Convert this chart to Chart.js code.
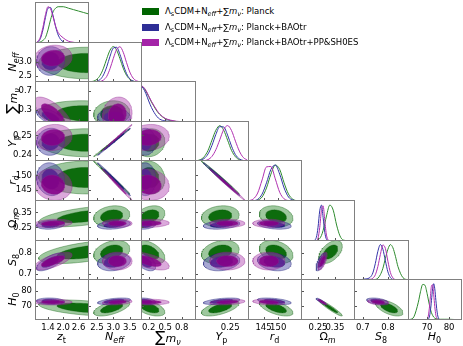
<!DOCTYPE html>
<html>
<head>
<meta charset="utf-8">
<script src="https://cdn.jsdelivr.net/npm/chart.js@4.4.0/dist/chart.umd.min.js"></script>
<style>
  body { margin: 0; background: #fff; }
  #page { position: relative; width: 463px; height: 346px; overflow: hidden; font-family: 'DejaVu Sans', sans-serif; color: #000; }
  canvas { position: absolute; }
  .ttl { position: absolute; font-size: 11px; white-space: nowrap; line-height: 12px; }
  .ttl .s { font-size: 8px; position: relative; top: 3px; }
  .rot { transform: translate(-50%, -50%) rotate(-90deg); }
  .bot { transform: translateX(-50%); }
  .leg { position: absolute; left: 142px; font-size: 8.5px; white-space: nowrap; line-height: 10px; }
  .leg b { display: inline-block; width: 17px; height: 7px; margin-right: 6px; vertical-align: -1px; }
  .leg .s { font-size: 6.5px; position: relative; top: 2px; }
</style>
</head>
<body>
<div id="page"></div>
<script>
// parameters: z_t, N_eff, sum m_nu, Y_p, r_d, Omega_m, S_8, H_0
var xMin = [0.89, 2.23, 0.06, 0.2365, 139.7, 0.149, 0.665, 61.3];
var xMax = [3.01, 3.87, 1.06, 0.2572, 158.1, 0.469, 0.884, 85.9];
var yMin = [0, 2.29, 0.035, 0.2368, 141.1, 0.16, 0.672, 60.2];
var yMax = [1, 3.68, 0.92, 0.2574, 155.4, 0.432, 0.862, 88.2];
var xTicks = [[1.4, 2.0, 2.6], [2.5, 3.0, 3.5], [0.2, 0.5, 0.8], [0.25], [145, 150], [0.25, 0.35], [0.7, 0.8], [70, 80]];
var yTicks = [[], [2.5, 3.0], [0.3, 0.7], [0.24, 0.25], [145, 150], [0.25, 0.35], [0.7, 0.8], [70, 80]];
var tickDec = [1, 1, 1, 2, 0, 2, 1, 0];

// 1D marginals (peak ~1)
var ztGrid = [0.9, 1.0, 1.1, 1.2, 1.3, 1.4, 1.5, 1.6, 1.7, 1.8, 2.0, 2.2, 2.4, 2.6, 2.8, 3.0];
var ztP = [0, 0.01, 0.03, 0.07, 0.15, 0.36, 0.64, 0.86, 0.96, 1.0, 1.0, 0.96, 0.92, 0.88, 0.84, 0.8];
var ztB = [0, 0.03, 0.12, 0.36, 0.7, 0.96, 0.98, 0.75, 0.45, 0.22, 0.03, 0, 0, 0, 0, 0];
var ztS = [0, 0.04, 0.16, 0.43, 0.78, 1.0, 0.94, 0.72, 0.46, 0.29, 0.14, 0.05, 0.02, 0, 0, 0];

var neffGrid = [2.3, 2.4, 2.5, 2.6, 2.7, 2.8, 2.9, 3.0, 3.1, 3.2, 3.3, 3.4, 3.5, 3.6, 3.7, 3.8];
var neffP = [0.006, 0.024, 0.076, 0.19, 0.39, 0.66, 0.9, 1, 0.9, 0.66, 0.39, 0.19, 0.076, 0.024, 0.006, 0.001];
var neffB = [0.001, 0.004, 0.02, 0.07, 0.2, 0.43, 0.73, 0.96, 0.98, 0.78, 0.49, 0.24, 0.09, 0.026, 0.006, 0];
var neffS = [0, 0, 0.003, 0.015, 0.056, 0.16, 0.38, 0.67, 0.92, 0.995, 0.84, 0.55, 0.28, 0.11, 0.034, 0.008];

var mnuGrid = [0.06, 0.1, 0.15, 0.2, 0.25, 0.3, 0.35, 0.4, 0.5, 0.6, 0.7, 0.8, 0.9, 1.0];
var mnuP = [1.0, 0.96, 0.85, 0.7, 0.55, 0.42, 0.3, 0.21, 0.09, 0.04, 0.015, 0.005, 0, 0];
var mnuB = [1.0, 0.93, 0.78, 0.58, 0.4, 0.26, 0.15, 0.08, 0.03, 0.02, 0.01, 0, 0, 0];
var mnuS = [1.0, 0.97, 0.87, 0.72, 0.57, 0.44, 0.32, 0.22, 0.1, 0.05, 0.02, 0.01, 0, 0];

var ypGrid = [0.237, 0.2385, 0.24, 0.2415, 0.243, 0.2445, 0.246, 0.2475, 0.249, 0.2505, 0.252, 0.2535, 0.255, 0.2565];
var ypP = [0.008, 0.035, 0.12, 0.3, 0.59, 0.87, 1, 0.87, 0.59, 0.3, 0.12, 0.035, 0.008, 0.001];
var ypB = [0.004, 0.02, 0.07, 0.2, 0.44, 0.75, 0.97, 0.96, 0.73, 0.42, 0.18, 0.06, 0.015, 0.003];
var ypS = [0, 0.002, 0.009, 0.04, 0.13, 0.32, 0.6, 0.89, 1.0, 0.86, 0.56, 0.28, 0.1, 0.03];

var rdGrid = [140, 141.5, 143, 144.5, 146, 147.5, 149, 150.5, 152, 153.5, 155, 156.5, 158];
var rdP = [0, 0.003, 0.024, 0.11, 0.36, 0.74, 0.99, 0.87, 0.5, 0.19, 0.046, 0.007, 0];
var rdB = [0.001, 0.007, 0.046, 0.19, 0.5, 0.87, 0.99, 0.74, 0.36, 0.11, 0.024, 0.003, 0];
var rdS = [0.008, 0.055, 0.22, 0.58, 0.94, 0.95, 0.61, 0.24, 0.06, 0.01, 0, 0, 0];

var omGrid = [0.15, 0.2, 0.22, 0.24, 0.25, 0.26, 0.27, 0.28, 0.29, 0.3, 0.32, 0.34, 0.36, 0.38, 0.4, 0.45];
var omP = [0, 0, 0.002, 0.01, 0.03, 0.07, 0.15, 0.29, 0.48, 0.69, 0.99, 0.85, 0.44, 0.14, 0.025, 0];
var omB = [0, 0, 0.005, 0.1, 0.38, 0.83, 0.99, 0.65, 0.24, 0.05, 0.002, 0, 0, 0, 0, 0];
var omS = [0, 0, 0, 0.01, 0.08, 0.37, 0.84, 0.97, 0.56, 0.16, 0.005, 0, 0, 0, 0, 0];

var s8Grid = [0.67, 0.69, 0.71, 0.73, 0.74, 0.75, 0.76, 0.77, 0.78, 0.79, 0.8, 0.81, 0.82, 0.83, 0.84, 0.86, 0.88];
var s8P = [0, 0, 0, 0.002, 0.005, 0.015, 0.05, 0.15, 0.33, 0.61, 0.87, 1.0, 0.91, 0.67, 0.38, 0.066, 0.004];
var s8B = [0.002, 0.01, 0.03, 0.08, 0.2, 0.47, 0.81, 1.0, 0.87, 0.54, 0.23, 0.07, 0.015, 0.002, 0, 0, 0];
var s8S = [0, 0.005, 0.01, 0.02, 0.05, 0.15, 0.38, 0.72, 0.99, 0.89, 0.53, 0.21, 0.06, 0.01, 0, 0, 0];

var h0Grid = [62, 64, 66, 67, 68, 69, 70, 70.5, 71, 71.5, 72, 72.5, 73, 73.5, 74, 74.5, 75, 76, 78, 80, 82, 84];
var h0P = [0.006, 0.09, 0.49, 0.78, 0.98, 0.96, 0.73, 0.58, 0.43, 0.3, 0.2, 0.13, 0.08, 0.05, 0.035, 0.03, 0.025, 0.02, 0.02, 0.02, 0.015, 0.01];
var h0B = [0, 0, 0, 0, 0, 0, 0.004, 0.02, 0.08, 0.25, 0.54, 0.86, 1.0, 0.86, 0.54, 0.25, 0.08, 0.004, 0, 0, 0, 0];
var h0S = [0, 0, 0, 0, 0, 0, 0.025, 0.1, 0.31, 0.64, 0.94, 0.97, 0.71, 0.37, 0.13, 0.035, 0.006, 0, 0, 0, 0, 0];

// 2D contours: centre, width and correlation of each blob
var meanP = [2.9, 2.95, 0.22, 0.2462, 149.3, 0.324, 0.805, 68.4];
var sigP  = [0.75, 0.22, 0.11, 0.0029, 2.3, 0.028, 0.022, 2.2];
var meanB = [1.5, 3.02, 0.14, 0.2467, 148.7, 0.268, 0.758, 73.0];
var sigB  = [0.22, 0.2, 0.075, 0.0028, 2.3, 0.012, 0.017, 0.9];
var meanS = [1.6, 3.12, 0.2, 0.2489, 146.8, 0.277, 0.762, 72.4];
var sigS  = [0.3, 0.18, 0.15, 0.0027, 2.2, 0.011, 0.017, 0.8];
// pair order: (0,1)..(0,7), (1,2)..(1,7), ... (6,7)
var rhoP = [0.0, -0.1, 0.0, 0.0, 0.55, 0.55, -0.45,
            0.1, 0.998, -0.995, 0.2, 0.3, 0.6,
            0.1, -0.1, 0.3, -0.5, -0.5,
            -0.995, 0.15, 0.25, 0.6,
            -0.2, -0.3, -0.6,
            0.5, -0.95,
            -0.6];
var rhoB = [0.05, -0.6, 0.05, -0.1, 0.2, 0.7, -0.1,
            0.0, 0.998, -0.995, 0.3, 0.2, 0.5,
            0.0, 0.0, 0.2, -0.5, -0.3,
            -0.995, 0.3, 0.2, 0.5,
            -0.3, -0.2, -0.5,
            0.7, -0.9,
            -0.4];
var rhoS = [0.1, -0.7, 0.1, -0.1, 0.2, 0.7, 0.0,
            0.1, 0.998, -0.995, 0.0, 0.0, 0.3,
            0.1, -0.1, 0.1, -0.6, 0.0,
            -0.995, 0.0, 0.0, 0.3,
            0.0, 0.0, -0.3,
            0.7, -0.9,
            -0.3];

var grids = [ztGrid, neffGrid, mnuGrid, ypGrid, rdGrid, omGrid, s8Grid, h0Grid];
var curves = [[ztP, ztB, ztS], [neffP, neffB, neffS], [mnuP, mnuB, mnuS], [ypP, ypB, ypS],
              [rdP, rdB, rdS], [omP, omB, omS], [s8P, s8B, s8S], [h0P, h0B, h0S]];

var sets = [
  { mean: meanP, sig: sigP, rho: rhoP, line: '#2e8b2e', outer: 'rgba(0,110,0,0.38)', inner: 'rgba(0,100,0,0.92)', edge: 'rgba(0,90,0,0.6)' },
  { mean: meanB, sig: sigB, rho: rhoB, line: '#3434a8', outer: 'rgba(45,45,150,0.42)', inner: 'rgba(25,25,130,0.9)', edge: 'rgba(30,30,120,0.7)' },
  { mean: meanS, sig: sigS, rho: rhoS, line: '#b030b0', outer: 'rgba(170,50,170,0.42)', inner: 'rgba(135,0,135,0.85)', edge: 'rgba(140,30,140,0.6)' }
];

var colEdge = [35, 88, 141, 195, 248, 301, 354, 408, 461];
var rowEdge = [2, 42, 81, 121, 160, 200, 240, 279, 319];
var padL = 35, padB = 26;

function rhoAt(arr, c, r) {
  var k = 0;
  for (var a = 0; a < c; a++) k += 7 - a;
  return arr[k + (r - c - 1)];
}

function ellipse(mx, my, sx, sy, r, k) {
  var pts = [], q = Math.sqrt(1 - r * r);
  for (var t = 0; t <= 72; t++) {
    var a = t / 72 * 2 * Math.PI;
    pts.push({ x: mx + k * sx * Math.cos(a), y: my + k * sy * (r * Math.cos(a) + q * Math.sin(a)) });
  }
  return pts;
}

var frame = {
  id: 'frame',
  afterDatasetsDraw: function(chart, args, opts) {
    var a = chart.chartArea, c = chart.ctx;
    c.save();
    c.lineWidth = 1;
    c.strokeStyle = '#555';
    (opts.xt || []).forEach(function(v) {
      var p = Math.round(chart.scales.x.getPixelForValue(v)) + 0.5;
      c.beginPath(); c.moveTo(p, a.bottom); c.lineTo(p, a.bottom - 3); c.stroke();
    });
    (opts.yt || []).forEach(function(v) {
      var p = Math.round(chart.scales.y.getPixelForValue(v)) + 0.5;
      c.beginPath(); c.moveTo(a.left, p); c.lineTo(a.left + 3, p); c.stroke();
    });
    c.strokeStyle = '#808080';
    c.strokeRect(a.left + 0.5, a.top + 0.5, a.right - a.left - 1, a.bottom - a.top - 1);
    c.restore();
  }
};

function axis(min, max, show, ticks, dec, isX) {
  return {
    type: 'linear', min: min, max: max, display: show,
    grid: { display: false, drawTicks: false }, border: { display: false },
    ticks: {
      autoSkip: false, maxRotation: 0, padding: 3, color: '#000',
      font: { family: 'DejaVu Sans', size: 8.5 },
      callback: function(v) { return Number(v).toFixed(dec); }
    },
    afterBuildTicks: function(s) { s.ticks = ticks.map(function(v) { return { value: v }; }); },
    afterFit: function(s) {
      if (!show) { s.width = 0; s.height = 0; return; }
      if (isX) { s.height = padB; s.paddingLeft = 0; s.paddingRight = 0; }
      else { s.width = padL; s.paddingTop = 0; s.paddingBottom = 0; }
    }
  };
}

var page = document.getElementById('page');

function cell(i, j) {
  var L = colEdge[j], R = colEdge[j + 1], T = rowEdge[i], B = rowEdge[i + 1];
  var showY = (j === 0 && i > 0), showX = (i === 7);
  var w = R - L + 1 + (showY ? padL : 0), h = B - T + 1 + (showX ? padB : 0);
  var box = document.createElement('div');
  box.style.position = 'absolute';
  box.style.left = (L - (showY ? padL : 0)) + 'px';
  box.style.top = T + 'px';
  box.style.width = w + 'px';
  box.style.height = h + 'px';
  var cv = document.createElement('canvas');
  cv.width = w; cv.height = h;
  cv.style.width = w + 'px'; cv.style.height = h + 'px';
  cv.style.left = '0px'; cv.style.top = '0px';
  box.appendChild(cv);
  page.appendChild(box);

  var ds = [];
  if (i === j) {
    sets.forEach(function(s, k) {
      ds.push({
        data: grids[j].map(function(x, n) { return { x: x, y: curves[j][k][n] }; }),
        showLine: true, borderColor: s.line, borderWidth: 1, pointRadius: 0,
        cubicInterpolationMode: 'monotone', fill: false
      });
    });
  } else {
    sets.forEach(function(s) {
      var r = rhoAt(s.rho, j, i);
      [2.49, 1.52].forEach(function(lev, n) {
        ds.push({
          data: ellipse(s.mean[j], s.mean[i], s.sig[j], s.sig[i], r, lev),
          showLine: true, pointRadius: 0, tension: 0,
          borderColor: s.edge, borderWidth: 0.6,
          backgroundColor: n === 0 ? s.outer : s.inner, fill: 'shape'
        });
      });
    });
  }
  ds.reverse(); // first dataset is painted last

  new Chart(cv, {
    type: 'scatter',
    data: { datasets: ds },
    plugins: [frame],
    options: {
      animation: false, responsive: false, maintainAspectRatio: false, devicePixelRatio: 1, events: [],
      layout: { padding: 0 },
      plugins: {
        legend: { display: false }, tooltip: { enabled: false },
        frame: { xt: xTicks[j], yt: i === j ? [] : yTicks[i] }
      },
      scales: {
        x: axis(xMin[j], xMax[j], showX, xTicks[j], tickDec[j], true),
        y: i === j ? { type: 'linear', min: 0, max: 1.13, display: false }
                   : axis(yMin[i], yMax[i], showY, yTicks[i], tickDec[i], false)
      }
    }
  });
}

for (var i = 0; i < 8; i++) {
  for (var j = 0; j <= i; j++) cell(i, j);
}

// axis titles
var titles = [
  '<i>z</i><span class="s">t</span>',
  '<i>N<span class="s">eff</span></i>',
  '<span style="font-size:15px">&sum;</span><i>m</i><span class="s"><i>&nu;</i></span>',
  '<i>Y</i><span class="s">p</span>',
  '<i>r</i><span class="s">d</span>',
  '&Omega;<span class="s"><i>m</i></span>',
  '<i>S</i><span class="s">8</span>',
  '<i>H</i><span class="s">0</span>'
];
titles.forEach(function(t, k) {
  var b = document.createElement('div');
  b.className = 'ttl bot';
  b.innerHTML = t;
  b.style.left = ((colEdge[k] + colEdge[k + 1]) / 2) + 'px';
  b.style.top = '331px';
  page.appendChild(b);
  if (k > 0) {
    var l = document.createElement('div');
    l.className = 'ttl rot';
    l.innerHTML = t;
    l.style.left = '13px';
    l.style.top = ((rowEdge[k] + rowEdge[k + 1]) / 2) + 'px';
    page.appendChild(l);
  }
});

// legend
var legColors = ['#006400', '#2e2e96', '#a424a8'];
var legText = ['Planck', 'Planck+BAOtr', 'Planck+BAOtr+PP&amp;SH0ES'];
legText.forEach(function(t, k) {
  var d = document.createElement('div');
  d.className = 'leg';
  d.style.top = (6 + k * 15.7) + 'px';
  d.innerHTML = '<b style="background:' + legColors[k] + '"></b>&Lambda;<span class="s">s</span>CDM+N<span class="s"><i>eff</i></span>+&sum;<i>m</i><span class="s"><i>&nu;</i></span>: ' + t;
  page.appendChild(d);
});
</script>
</body>
</html>
